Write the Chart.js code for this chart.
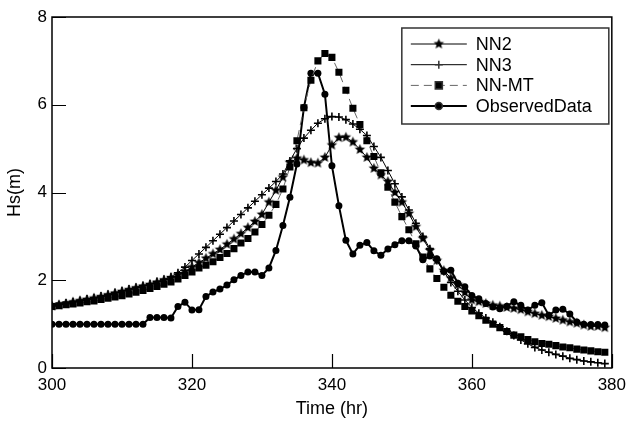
<!DOCTYPE html>
<html><head><meta charset="utf-8">
<script src="https://cdn.jsdelivr.net/npm/chart.js@4/dist/chart.umd.min.js"></script>
<style>html,body{margin:0;padding:0;background:#fff}</style>
</head><body>
<canvas id="c" width="633" height="421"></canvas>
<script>
const hours = [300,301,302,303,304,305,306,307,308,309,310,311,312,313,314,315,316,317,318,319,
320,321,322,323,324,325,326,327,328,329,330,331,332,333,334,335,336,337,338,339,
340,341,342,343,344,345,346,347,348,349,350,351,352,353,354,355,356,357,358,359,
360,361,362,363,364,365,366,367,368,369,370,371,372,373,374,375,376,377,378,379];

const nn2 = [1.41,1.44,1.47,1.50,1.53,1.56,1.59,1.62,1.66,1.70,1.74,1.78,1.82,1.86,1.90,1.95,2.00,2.05,2.12,2.20,
2.30,2.40,2.50,2.60,2.70,2.82,2.94,3.06,3.20,3.34,3.50,3.78,4.05,4.35,4.68,4.78,4.74,4.68,4.67,4.80,
5.08,5.25,5.26,5.15,4.98,4.80,4.55,4.40,4.25,4.00,3.78,3.52,3.22,2.95,2.68,2.45,2.22,2.05,1.90,1.72,
1.55,1.51,1.47,1.43,1.41,1.38,1.36,1.33,1.28,1.24,1.20,1.17,1.13,1.09,1.05,1.02,0.98,0.95,0.95,0.92];

const nn3 = [1.42,1.45,1.48,1.51,1.54,1.57,1.60,1.64,1.68,1.72,1.76,1.80,1.84,1.88,1.92,1.97,2.02,2.08,2.17,2.30,
2.45,2.60,2.75,2.90,3.05,3.20,3.35,3.50,3.65,3.80,3.95,4.10,4.25,4.42,4.72,5.00,5.24,5.42,5.58,5.68,
5.73,5.72,5.66,5.56,5.44,5.30,5.05,4.80,4.50,4.20,3.90,3.60,3.30,3.00,2.72,2.45,2.20,1.95,1.75,1.55,
1.38,1.25,1.14,1.04,0.94,0.84,0.74,0.64,0.55,0.47,0.41,0.36,0.31,0.27,0.22,0.19,0.16,0.14,0.12,0.10];

const nnmt = [1.40,1.42,1.44,1.46,1.48,1.51,1.53,1.56,1.59,1.62,1.65,1.69,1.73,1.77,1.81,1.86,1.91,1.96,2.03,2.11,
2.19,2.28,2.34,2.42,2.52,2.61,2.72,2.85,2.95,3.10,3.27,3.48,3.73,4.08,4.58,5.18,5.93,6.56,7.00,7.17,
7.08,6.74,6.33,5.92,5.55,5.18,4.82,4.45,4.12,3.78,3.45,3.15,2.83,2.53,2.26,2.04,1.84,1.66,1.52,1.40,
1.30,1.19,1.09,1.00,0.92,0.83,0.75,0.71,0.65,0.60,0.56,0.54,0.51,0.48,0.46,0.43,0.41,0.39,0.37,0.36];

const observed = [1.00,1.00,1.00,1.00,1.00,1.00,1.00,1.00,1.00,1.00,1.00,1.00,1.00,1.00,1.15,1.15,1.15,1.14,1.40,1.50,
1.32,1.33,1.63,1.73,1.80,1.89,2.01,2.11,2.19,2.19,2.11,2.28,2.68,3.25,3.89,4.65,5.94,6.72,6.72,6.24,
4.61,3.70,2.91,2.60,2.80,2.86,2.67,2.57,2.71,2.81,2.90,2.90,2.78,2.47,2.55,2.49,2.20,2.23,1.93,1.85,
1.65,1.58,1.47,1.39,1.35,1.41,1.51,1.43,1.32,1.43,1.49,1.20,1.32,1.34,1.23,1.05,1.00,0.99,0.99,0.98];

const seriesNames = ['NN2','NN3','NN-MT','ObservedData'];
const xTicks = [300,320,340,360,380];
const yTicks = [0,2,4,6,8];

const FONT = '"Liberation Sans", Arial, Helvetica, sans-serif';

function starImg(r){
  const s = Math.ceil(r*2+2);
  const c = document.createElement('canvas'); c.width = s; c.height = s;
  const g = c.getContext('2d'); g.fillStyle = '#000'; g.beginPath();
  for (let i=0;i<10;i++){ const rad = i%2 ? r*0.45 : r; const a = -Math.PI/2 + i*Math.PI/5;
    g.lineTo(s/2 + rad*Math.cos(a), s/2 + rad*Math.sin(a)); }
  g.closePath(); g.fill(); return c;
}
const STAR = starImg(5.5);

const frame = {
  id: 'frame',
  beforeDatasetsDraw(chart){
    const {ctx, chartArea:a, scales:{x, y}} = chart;
    ctx.save(); ctx.strokeStyle = '#000';
    ctx.lineWidth = 1.5;
    ctx.strokeRect(a.left, a.top, a.right-a.left, a.bottom-a.top);
    ctx.lineWidth = 1.2; ctx.beginPath();
    x.ticks.forEach(t => { const px = Math.round(x.getPixelForValue(t.value))+0.5; ctx.moveTo(px, a.bottom); ctx.lineTo(px, a.bottom-14); });
    y.ticks.forEach(t => { const py = Math.round(y.getPixelForValue(t.value))+0.5; ctx.moveTo(a.left, py); ctx.lineTo(a.left+14, py); });
    ctx.stroke(); ctx.restore();
  }
};

const legendBox = {
  id: 'legendBox',
  afterDraw(chart){
    const {ctx, chartArea:a} = chart;
    const bx = a.right - 210, by = a.top + 11, bw = 207, bh = 96;
    ctx.save();
    ctx.fillStyle = '#fff'; ctx.fillRect(bx, by, bw, bh);
    ctx.strokeStyle = '#333'; ctx.lineWidth = 1.5; ctx.strokeRect(bx, by, bw, bh);
    const ds = chart.data.datasets;
    ds.forEach((d, i) => {
      const cy = by + 16 + i*20.7;
      const x0 = bx + 9, x1 = bx + 65, mx = bx + 37;
      ctx.save();
      ctx.strokeStyle = d.borderColor; ctx.lineWidth = d.borderWidth;
      ctx.setLineDash(d.borderDash || []);
      ctx.beginPath(); ctx.moveTo(x0, cy); ctx.lineTo(x1, cy); ctx.stroke();
      ctx.restore();
      Chart.helpers.drawPoint(ctx, {pointStyle: d.pointStyle, radius: d.pointRadius, borderWidth: d.pointBorderWidth || 1, rotation: 0}, mx, cy);
      ctx.fillStyle = '#000'; ctx.font = '18px ' + FONT; ctx.textBaseline = 'middle'; ctx.textAlign = 'left';
      ctx.fillText(d.label, bx + 74, cy + 1);
    });
    ctx.restore();
  }
};

new Chart(document.getElementById('c'), {
  type: 'line',
  data: {
    labels: hours,
    datasets: [
      { label: seriesNames[0], data: nn2, borderColor: '#000', borderWidth: 1, tension: 0,
        pointStyle: STAR, pointRadius: 5, backgroundColor: '#000', pointBackgroundColor: '#000', pointBorderColor: '#000' },
      { label: seriesNames[1], data: nn3, borderColor: '#000', borderWidth: 1, tension: 0,
        pointStyle: 'cross', pointRadius: 4, pointBorderWidth: 1.6, pointBorderColor: '#000', pointBackgroundColor: '#000' },
      { label: seriesNames[2], data: nnmt, borderColor: '#666', borderWidth: 1, borderDash: [8,5], tension: 0,
        pointStyle: 'rect', pointRadius: 5, pointBorderWidth: 0, pointBackgroundColor: '#000', pointBorderColor: '#000' },
      { label: seriesNames[3], data: observed, borderColor: '#000', borderWidth: 2, tension: 0,
        pointStyle: 'circle', pointRadius: 3.5, pointBorderWidth: 0, pointBackgroundColor: '#000', pointBorderColor: '#000' }
    ]
  },
  options: {
    responsive: false, animation: false, devicePixelRatio: 1,
    layout: { padding: { left: 0, right: 20, top: 17, bottom: 0 } },
    plugins: { legend: { display: false }, tooltip: { enabled: false } },
    scales: {
      x: { type: 'linear', min: 300, max: 380,
        afterBuildTicks(s){ s.ticks = xTicks.map(v => ({value: v})); },
        ticks: { color: '#000', font: { family: FONT, size: 17 }, padding: 7 },
        grid: { display: false, drawTicks: false }, border: { display: false },
        title: { display: true, text: 'Time (hr)', color: '#000', font: { family: FONT, size: 18 }, padding: { top: 0, bottom: 1 } },
        afterFit(s){ s.height = 53; } },
      y: { min: 0, max: 8,
        afterBuildTicks(s){ s.ticks = yTicks.map(v => ({value: v})); },
        ticks: { color: '#000', font: { family: FONT, size: 17 }, padding: 5 },
        grid: { display: false, drawTicks: false }, border: { display: false },
        title: { display: true, text: 'Hs(m)', color: '#000', font: { family: FONT, size: 18 }, padding: { top: 4, bottom: 0 } },
        afterFit(s){ s.width = 52; } }
    }
  },
  plugins: [frame, legendBox]
});
</script>
</body></html>
